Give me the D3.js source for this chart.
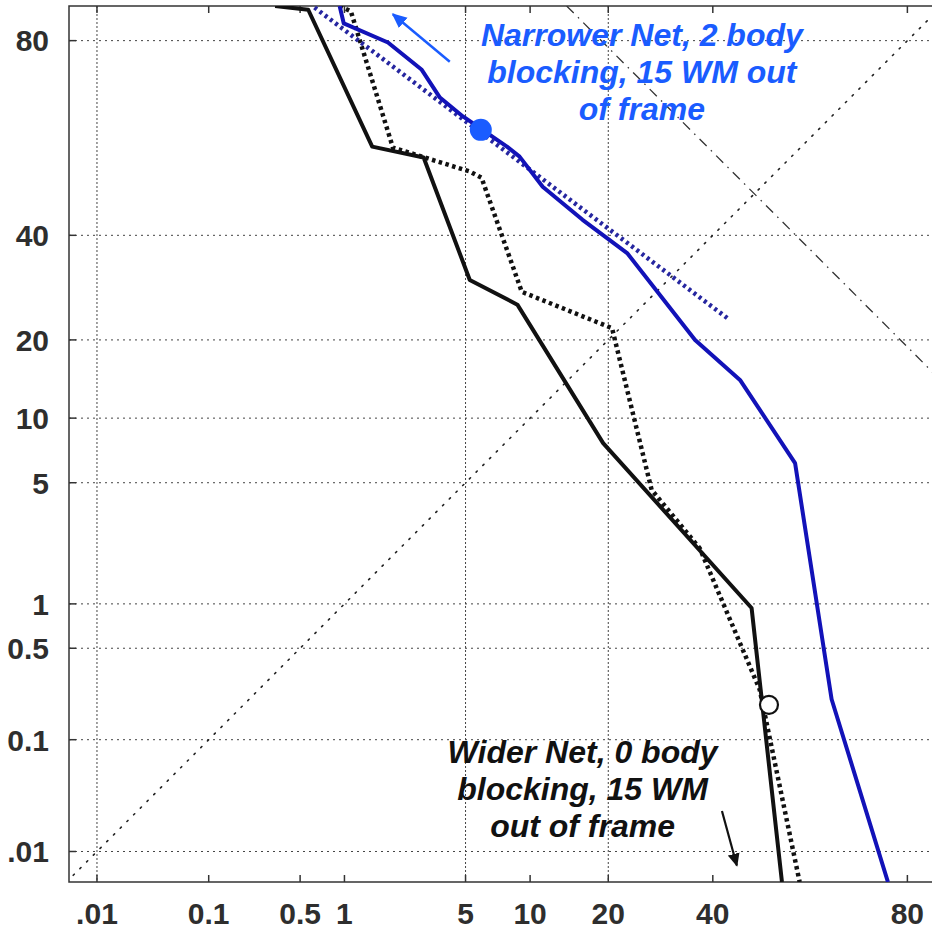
<!DOCTYPE html>
<html>
<head>
<meta charset="utf-8">
<script src="https://cdn.jsdelivr.net/npm/d3@7"></script>
<style>
  html, body { margin: 0; padding: 0; background: #fff; }
  svg { display: block; }
  .tick-lbl { font-family: "Liberation Sans", Arial, sans-serif; font-weight: bold; font-size: 30px; fill: #2e2e2e; }
  .note { font-family: "Liberation Sans", Arial, sans-serif; font-weight: bold; font-style: italic; font-size: 32px; }
</style>
</head>
<body>
<svg id="det" width="932" height="929"></svg>
<script>
// DET plot, both axes in % on a normal-deviate (probit) scale
const xTicks = [0.01, 0.1, 0.5, 1, 5, 10, 20, 40, 80];
const xTickLabels = [".01", "0.1", "0.5", "1", "5", "10", "20", "40", "80"];
const yTicks = [0.01, 0.1, 0.5, 1, 5, 10, 20, 40, 80];
const yTickLabels = [".01", "0.1", "0.5", "1", "5", "10", "20", "40", "80"];
const xGrid = [0.01, 5, 20];
const xLim = [0.0053, 85];
const yLim = [0.005, 85];

// wider net, solid black
const wideFA   = [0.33, 0.57, 1.5, 3.0, 5.25, 8.8, 19.2, 48.6, 55.4];
const wideMiss = [85, 84.5, 59.7, 57.3, 30.7, 26.0, 7.75, 0.94, 0.005];
// wider net, dotted black
const wideDotFA   = [0.93, 1.1, 2.0, 5.25, 6.0, 9.2, 20.6, 27.5, 37.2, 50.4, 59.3];
const wideDotMiss = [85, 84.3, 59.5, 54.2, 52.8, 28.4, 21.9, 4.6, 2.2, 0.25, 0.005];
// narrower net, solid blue
const narrowFA   = [0.93, 0.99, 1.87, 2.93, 3.68, 4.85, 7.9, 9.0, 11.3, 16.2, 23.1, 36.2, 46.0, 58.3, 66.1, 76.8];
const narrowMiss = [85, 82.6, 79.7, 75.1, 69.9, 66.1, 59.7, 57.5, 50.8, 43.4, 36.2, 20.0, 14.3, 6.25, 0.21, 0.005];
// narrower net, dotted fit line
const fitFA   = [0.63, 43.7];
const fitMiss = [84.8, 23.3];
// reference lines
const eerFA = [0.005, 85], eerMiss = [0.005, 85];
const costFA = [14.1, 85], costMiss = [85, 14.1];
// operating points
const narrowPoint = [5.95, 63.3];
const widePoint = [52.5, 0.19];

// inverse normal CDF (Acklam)
function probit(pct) {
  const p = pct / 100;
  const a = [-3.969683028665376e+01, 2.209460984245205e+02, -2.759285104469687e+02, 1.383577518672690e+02, -3.066479806614716e+01, 2.506628277459239e+00];
  const b = [-5.447609879822406e+01, 1.615858368580409e+02, -1.556989798598866e+02, 6.680131188771972e+01, -1.328068155288572e+01];
  const c = [-7.784894002430293e-03, -3.223964580411365e-01, -2.400758277161838e+00, -2.549732539343734e+00, 4.374664141464968e+00, 2.938163982698783e+00];
  const d = [7.784695709041462e-03, 3.224671290700398e-01, 2.445134137142996e+00, 3.754408661907416e+00];
  const lo = 0.02425, hi = 1 - lo;
  let q, r;
  if (p < lo) {
    q = Math.sqrt(-2 * Math.log(p));
    return (((((c[0]*q+c[1])*q+c[2])*q+c[3])*q+c[4])*q+c[5]) / ((((d[0]*q+d[1])*q+d[2])*q+d[3])*q+1);
  } else if (p <= hi) {
    q = p - 0.5; r = q * q;
    return (((((a[0]*r+a[1])*r+a[2])*r+a[3])*r+a[4])*r+a[5])*q / (((((b[0]*r+b[1])*r+b[2])*r+b[3])*r+b[4])*r+1);
  }
  q = Math.sqrt(-2 * Math.log(1 - p));
  return -(((((c[0]*q+c[1])*q+c[2])*q+c[3])*q+c[4])*q+c[5]) / ((((d[0]*q+d[1])*q+d[2])*q+d[3])*q+1);
}

const L = 69, R = 942, T = 6, B = 882;
const x = d3.scaleLinear().domain(xLim.map(probit)).range([L, R]);
const y = d3.scaleLinear().domain(yLim.map(probit)).range([B, T]);
const px = v => x(probit(v)), py = v => y(probit(v));

const svg = d3.select("#det");
const defs = svg.append("defs");
defs.append("clipPath").attr("id", "plotclip")
  .append("rect").attr("x", L).attr("y", T).attr("width", R - L).attr("height", B - T);

[["arrBlue", "#1a5cff"], ["arrBlack", "#111"]].forEach(([id, col]) => {
  defs.append("marker").attr("id", id).attr("viewBox", "0 0 10 10")
    .attr("refX", 9).attr("refY", 5).attr("markerWidth", 6).attr("markerHeight", 6)
    .attr("orient", "auto").attr("markerUnits", "strokeWidth")
    .append("path").attr("d", "M0,0.5 L10,5 L0,9.5 Z").attr("fill", col);
});

// grid
const grid = svg.append("g");
grid.selectAll(".hg").data(yTicks).join("line")
  .attr("x1", L).attr("x2", R).attr("y1", d => py(d)).attr("y2", d => py(d))
  .attr("stroke", "#444").attr("stroke-width", 1).attr("stroke-dasharray", "2,4");
grid.selectAll(".vg").data(xGrid).join("line")
  .attr("y1", T).attr("y2", B).attr("x1", d => px(d)).attr("x2", d => px(d))
  .attr("stroke", "#444").attr("stroke-width", 1).attr("stroke-dasharray", "2,2");

// frame + ticks
svg.append("path").attr("d", `M${R},${T} H${L} V${B} H${R}`)
  .attr("fill", "none").attr("stroke", "#333").attr("stroke-width", 1.5);
svg.append("g").selectAll("line").data(xTicks).join("line")
  .attr("x1", d => px(d)).attr("x2", d => px(d)).attr("y1", B).attr("y2", B - 7)
  .attr("stroke", "#333").attr("stroke-width", 1.5);
svg.append("g").selectAll("line").data(xTicks).join("line")
  .attr("x1", d => px(d)).attr("x2", d => px(d)).attr("y1", T).attr("y2", T + 7)
  .attr("stroke", "#333").attr("stroke-width", 1.5);
svg.append("g").selectAll("line").data(yTicks).join("line")
  .attr("x1", L).attr("x2", L + 7).attr("y1", d => py(d)).attr("y2", d => py(d))
  .attr("stroke", "#333").attr("stroke-width", 1.5);

svg.append("g").selectAll("text").data(xTicks).join("text")
  .attr("class", "tick-lbl").attr("x", d => px(d)).attr("y", 924)
  .attr("text-anchor", "middle").text((d, i) => xTickLabels[i]);
svg.append("g").selectAll("text").data(yTicks).join("text")
  .attr("class", "tick-lbl").attr("x", 49).attr("y", d => py(d)).attr("dy", "0.36em")
  .attr("text-anchor", "end").text((d, i) => yTickLabels[i]);

// curves
const plot = svg.append("g").attr("clip-path", "url(#plotclip)");
const line = d3.line().x(d => px(d[0])).y(d => py(d[1]));
const zip = (a, b) => a.map((v, i) => [v, b[i]]);

plot.append("path").datum(zip(eerFA, eerMiss)).attr("d", line)
  .attr("fill", "none").attr("stroke", "#222").attr("stroke-width", 1.6)
  .attr("stroke-dasharray", "1.5,8").attr("stroke-linecap", "round");
plot.append("path").datum(zip(costFA, costMiss)).attr("d", line)
  .attr("fill", "none").attr("stroke", "#333").attr("stroke-width", 1.3)
  .attr("stroke-dasharray", "10,6,1.5,6");

plot.append("path").datum(zip(wideDotFA, wideDotMiss)).attr("d", line)
  .attr("fill", "none").attr("stroke", "#111").attr("stroke-width", 4.5)
  .attr("stroke-dasharray", "3.5,3.5");
plot.append("path").datum(zip(wideFA, wideMiss)).attr("d", line)
  .attr("fill", "none").attr("stroke", "#111").attr("stroke-width", 4)
  .attr("stroke-linejoin", "round");
plot.append("path").datum(zip(fitFA, fitMiss)).attr("d", line)
  .attr("fill", "none").attr("stroke", "#2626a0").attr("stroke-width", 4.5)
  .attr("stroke-dasharray", "3,3.5");
plot.append("path").datum(zip(narrowFA, narrowMiss)).attr("d", line)
  .attr("fill", "none").attr("stroke", "#1212b8").attr("stroke-width", 4)
  .attr("stroke-linejoin", "round");

plot.append("circle").attr("cx", px(narrowPoint[0])).attr("cy", py(narrowPoint[1]))
  .attr("r", 11).attr("fill", "#1a5cff");
plot.append("circle").attr("cx", px(widePoint[0])).attr("cy", py(widePoint[1]))
  .attr("r", 9).attr("fill", "#fff").attr("stroke", "#111").attr("stroke-width", 2.2);

// annotations
svg.append("line").attr("x1", px(4.15)).attr("y1", py(76.5)).attr("x2", px(2.0)).attr("y2", py(83.9))
  .attr("stroke", "#1a5cff").attr("stroke-width", 2.5).attr("marker-end", "url(#arrBlue)");
svg.append("line").attr("x1", px(42)).attr("y1", py(0.024)).attr("x2", px(45.3)).attr("y2", py(0.0073))
  .attr("stroke", "#111").attr("stroke-width", 2.2).attr("marker-end", "url(#arrBlack)");

const noteBlue = svg.append("text").attr("class", "note").attr("fill", "#1a5cff")
  .attr("text-anchor", "middle").attr("x", px(25.7)).attr("y", 46);
["Narrower Net, 2 body", "blocking, 15 WM out", "of frame"].forEach((t, i) =>
  noteBlue.append("tspan").attr("x", px(25.7)).attr("dy", i ? 37 : 0).text(t));

const noteBlack = svg.append("text").attr("class", "note").attr("fill", "#111")
  .attr("text-anchor", "middle").attr("x", px(16.2)).attr("y", 763);
["Wider Net, 0 body", "blocking, 15 WM", "out of frame"].forEach((t, i) =>
  noteBlack.append("tspan").attr("x", px(16.2)).attr("dy", i ? 37 : 0).text(t));
</script>
</body>
</html>
